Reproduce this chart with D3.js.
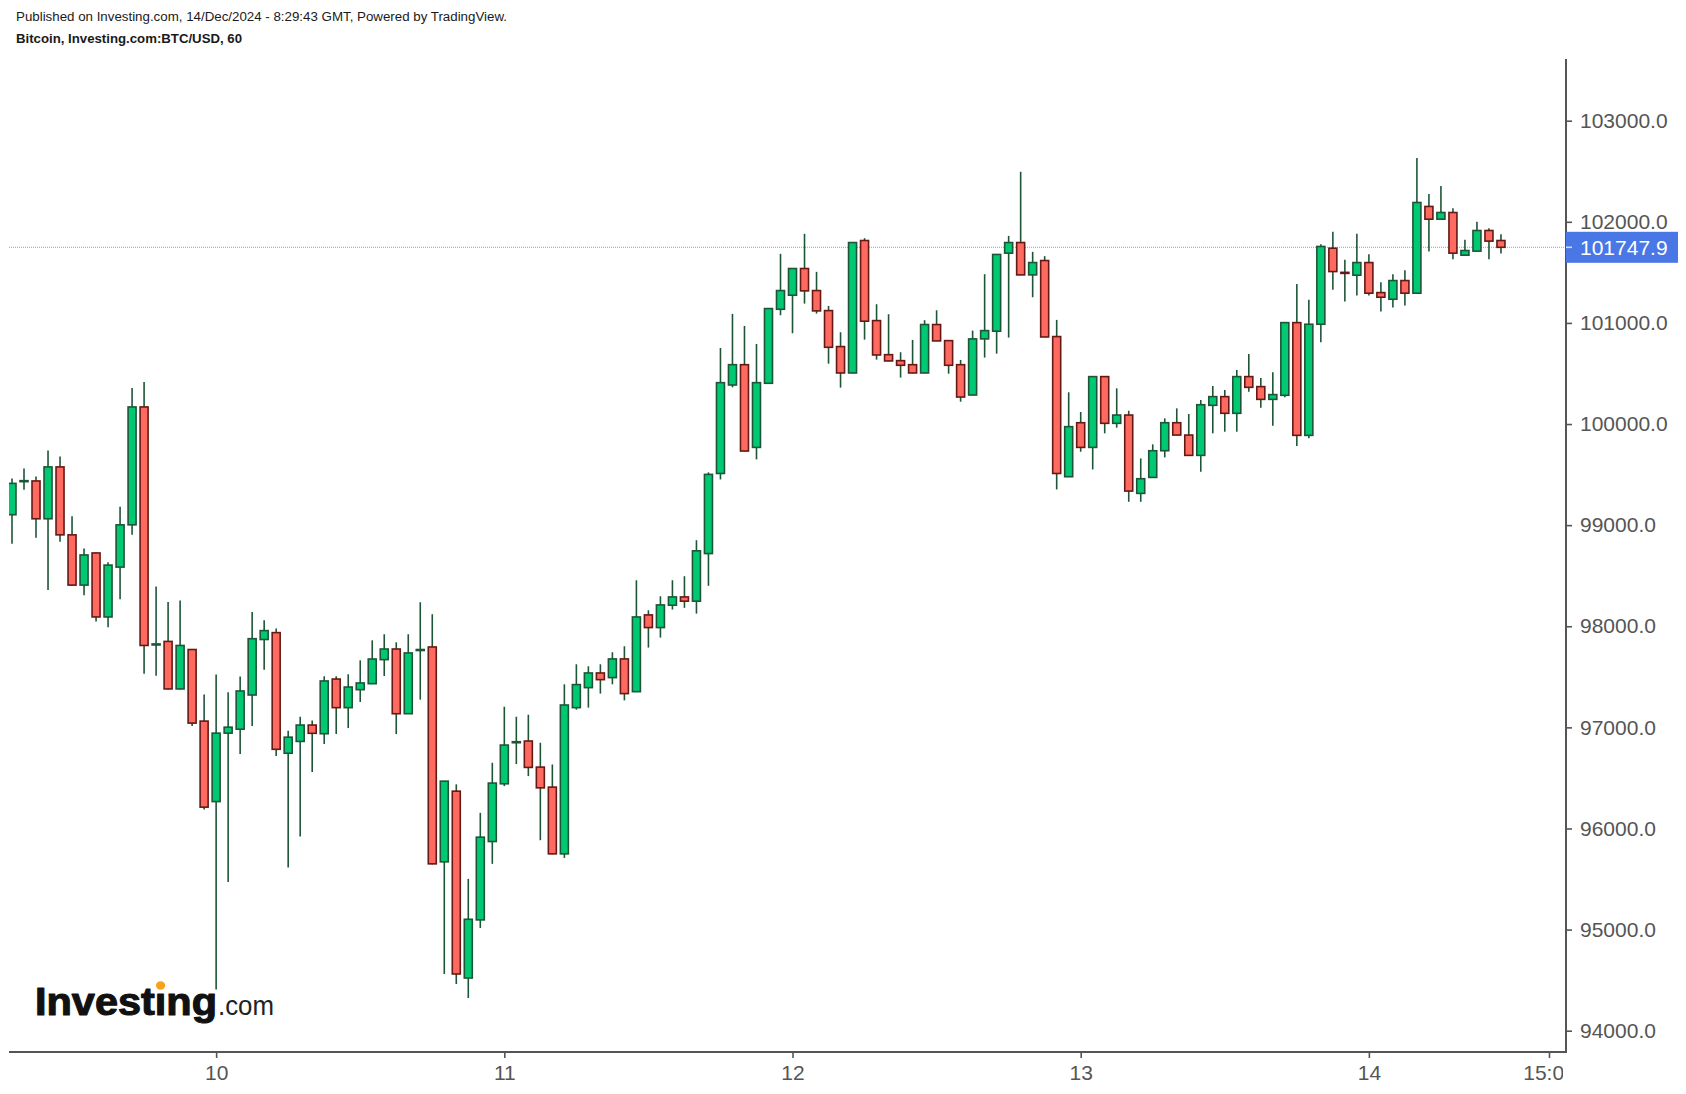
<!DOCTYPE html>
<html><head><meta charset="utf-8">
<script src="https://cdn.jsdelivr.net/npm/d3@7/dist/d3.min.js"></script>
<style>
body{margin:0;background:#fff;}
svg{display:block;font-family:"Liberation Sans",Arial,Helvetica,sans-serif;}
</style>
</head><body>
<svg id="chart" width="1686" height="1094"></svg>
<script>
// ---------- DATA (BTC/USD, 60-minute candles, first candle 9 Dec 07:00) ----------
const firstCandle = Date.UTC(2024, 11, 9, 7);
const opens = [
 99103,99432,99437,99063,99576,98904,98407,98725,98092,98585,99003,100169,97815,97850,97380,97770,97062,
 96266,96943,96982,97320,97869,97937,96744,96861,97023,96937,97478,97195,97373,97432,97670,97775,97135,97762,97795,95670,96369,94521,95096,95871,
 96442,96850,96865,96607,96409,95749,97195,97393,97538,97492,97677,97353,98112,97987,98208,98290,98248,98719,99511,100386,100587,99769,100403,101135,
 101274,101538,101320,101122,100766,100505,101815,101023,100686,100627,100587,100505,100984,100825,100587,100287,100842,100918,101690,101795,101475,101617,100865,99479,
 100013,99769,100469,100007,100089,99314,99472,99736,100013,99891,99690,100185,100271,100106,100469,100370,100244,100284,101003,99888,100987,101739,101500,101472,
 101597,101300,101234,101419,101294,102152,102026,102092,101670,101710,101914,101815
];
const highs = [
 99461,99560,99480,99739,99679,99087,98769,98730,98633,99182,100356,100415,98394,98239,98255,97775,97324,
 97523,97348,97503,98140,98060,97977,96966,97106,97069,97505,97505,97525,97663,97861,97921,97841,97921,98238,98119,96470,96436,95502,96155,96650,
 97204,97105,97125,96848,96633,97426,97624,97604,97624,97743,97802,98455,98158,98297,98455,98495,98851,99522,100752,101089,100970,100792,101145,101683,
 101540,101881,101505,101168,100908,101797,101838,101185,101086,100710,100832,101027,101125,100827,100634,100924,101482,101679,101861,102495,101703,101660,101030,100314,
 100119,100471,100471,100353,100132,99660,99799,100056,100155,100099,100238,100376,100337,100535,100693,100456,100512,101005,101386,101228,101779,101901,101624,101881,
 101680,101403,101482,101521,102630,102274,102353,102135,101822,102000,101937,101878
];
const lows = [
 98816,99349,98876,98359,98836,98400,98307,98048,97989,98267,98904,97531,97511,97375,97375,97014,96187,
 94408,95471,96736,97014,97571,96716,95614,95920,96558,96835,96934,96993,97251,97430,97508,96934,97135,97274,95645,94561,94462,94323,95016,95650,
 96419,96637,96518,95884,95745,95709,97175,97195,97334,97426,97267,97350,97789,97888,98165,98182,98125,98400,99452,100363,99730,99650,100400,101076,
 100898,101191,101092,100597,100360,100503,100835,100637,100622,100459,100503,100503,100820,100498,100221,100285,100657,100696,100855,101473,101254,100859,99353,99477,
 99726,99551,99908,99964,99231,99231,99470,99670,99889,99688,99528,99908,99924,99924,100320,100162,99984,100264,99782,99860,100810,101327,101211,101271,
 101271,101112,101152,101172,101292,101706,102024,101630,101668,101708,101630,101686
];
const closes = [
 99413,99440,99063,99576,98904,98407,98705,98092,98605,99003,100169,97810,97825,97380,97810,97042,96211,
 96943,97002,97360,97877,97957,96783,96903,97023,96941,97459,97195,97399,97439,97676,97775,97135,97736,97770,95650,96468,94561,95102,95914,96449,
 96825,96858,96604,96402,95749,97221,97423,97538,97472,97677,97334,98092,97987,98211,98290,98248,98746,99502,100409,100587,99733,100409,101142,101320,
 101538,101317,101119,100759,100505,101795,101017,100683,100624,100581,100505,100984,100822,100581,100267,100842,100924,101677,101795,101475,101597,100861,99511,99974,
 99769,100469,100007,100089,99337,99459,99736,100013,99891,99690,100191,100271,100106,100469,100363,100244,100291,101003,99888,100987,101756,101508,101493,101597,
 101294,101254,101419,101294,102191,102026,102092,101690,101716,101914,101809,101747.9
];
const lastPrice = 101747.9;
const yTicks = [94000,95000,96000,97000,98000,99000,100000,101000,102000,103000];
const xTickTimes = [Date.UTC(2024,11,10),Date.UTC(2024,11,11),Date.UTC(2024,11,12),Date.UTC(2024,11,13),Date.UTC(2024,11,14),Date.UTC(2024,11,14,15)];
const xTickLabels = ["10","11","12","13","14","15:00"];
const headerLines = ["Published on Investing.com, 14/Dec/2024 - 8:29:43 GMT, Powered by TradingView.","Bitcoin, Investing.com:BTC/USD, 60"];

// ---------- LAYOUT ----------
const W = 1686, H = 1094;
const plotLeft = 9, plotRight = 1566, plotTop = 59, axisY = 1052;
const HOUR = 3600000;
const candles = opens.map((o,i)=>({t:new Date(firstCandle + i*HOUR), o, h:highs[i], l:lows[i], c:closes[i]}));

const svg = d3.select("#chart");
svg.append("rect").attr("width",W).attr("height",H).attr("fill","#fff");

const x = d3.scaleUtc()
  .domain([new Date(firstCandle), new Date(Date.UTC(2024,11,14,15))])
  .range([12.0, 1549.0]);
const y = d3.scaleLinear().domain([94000,103000]).range([1030.7,120.7]);

const GREEN = "#00c873", RED = "#ff6a60", GREEN_EDGE = "#1e5537", RED_EDGE = "#641914";

// clip paths
const defs = svg.append("defs");
defs.append("clipPath").attr("id","plotClip").append("rect")
  .attr("x",plotLeft).attr("y",plotTop).attr("width",plotRight-plotLeft).attr("height",axisY-plotTop);
// x-axis group is translated by axisY, so this clip is in the group's local space
defs.append("clipPath").attr("id","xLabClip").append("rect")
  .attr("x",0).attr("y",0).attr("width",1563).attr("height",H-axisY);

// header
svg.append("text").attr("x",16).attr("y",21).attr("font-size",12).attr("fill","#1a1a1a")
  .attr("textLength",491).attr("lengthAdjust","spacingAndGlyphs").text(headerLines[0]);
svg.append("text").attr("x",16).attr("y",43).attr("font-size",12).attr("font-weight","bold").attr("fill","#1a1a1a")
  .attr("textLength",226).attr("lengthAdjust","spacingAndGlyphs").text(headerLines[1]);

// logo
const logo = svg.append("g");
const inv = logo.append("text").attr("x",35).attr("y",1015).attr("font-size",38).attr("font-weight","bold")
  .attr("fill","#111").attr("stroke","#111").attr("stroke-width",1.1).attr("stroke-linejoin","round")
  .text("Investıng");
const natural = inv.node().getComputedTextLength();
const iStart = inv.node().getSubStringLength(0,6);
const iW = inv.node().getSubStringLength(6,1);
const targetW = 182;
inv.attr("textLength",targetW).attr("lengthAdjust","spacingAndGlyphs");
const sc = targetW/natural;
logo.append("ellipse").attr("cx",35 + (iStart + iW/2)*sc).attr("cy",985.5).attr("rx",4.6).attr("ry",4.2)
  .attr("fill","#f7a21b");
logo.append("text").attr("x",35+targetW+1).attr("y",1015).attr("font-size",27).attr("fill","#222")
  .attr("textLength",56).attr("lengthAdjust","spacingAndGlyphs").text(".com");

// price line
svg.append("line").attr("x1",plotLeft).attr("x2",plotRight).attr("y1",y(lastPrice)).attr("y2",y(lastPrice))
  .attr("stroke","#6f8ff0").attr("stroke-width",1).attr("stroke-dasharray","1,1").attr("opacity",0.85);

// candles
const cg = svg.append("g").attr("clip-path","url(#plotClip)");
const bodyW = 8;
cg.selectAll("line.wick").data(candles).join("line").attr("class","wick")
  .attr("x1",d=>x(d.t)).attr("x2",d=>x(d.t))
  .attr("y1",d=>y(d.h)).attr("y2",d=>y(d.l))
  .attr("stroke",GREEN_EDGE).attr("stroke-width",1.6);
cg.selectAll("rect.body").data(candles).join("rect").attr("class","body")
  .attr("x",d=>x(d.t)-bodyW/2).attr("width",bodyW)
  .attr("y",d=>y(Math.max(d.o,d.c)))
  .attr("height",d=>Math.max(1,Math.abs(y(d.o)-y(d.c))))
  .attr("fill",d=>d.c>=d.o?GREEN:RED)
  .attr("stroke",d=>d.c>=d.o?GREEN_EDGE:RED_EDGE)
  .attr("stroke-width",1.6);

// axes
const AX = "#555";
const xAxis = d3.axisBottom(x).tickValues(xTickTimes.map(t=>new Date(t)))
  .tickFormat((d,i)=>xTickLabels[i]).tickSize(6).tickPadding(7).tickSizeOuter(0);
const gx = svg.append("g").attr("transform",`translate(0,${axisY})`).attr("clip-path","url(#xLabClip)")
  .call(xAxis);
gx.select(".domain").remove();
gx.selectAll(".tick line").attr("stroke",AX).attr("stroke-width",1.6);
gx.selectAll(".tick text").attr("fill","#555").attr("font-size",21)
  .attr("font-family","Liberation Sans, Arial, sans-serif");

const yAxis = d3.axisRight(y).tickValues(yTicks).tickFormat(d3.format(".1f")).tickSize(6).tickPadding(8).tickSizeOuter(0);
const gy = svg.append("g").attr("transform",`translate(${plotRight},0)`).call(yAxis);
gy.select(".domain").remove();
gy.selectAll(".tick line").attr("stroke",AX).attr("stroke-width",1.6);
gy.selectAll(".tick text").attr("fill","#555").attr("font-size",21)
  .attr("font-family","Liberation Sans, Arial, sans-serif");

// axis lines
svg.append("line").attr("x1",plotLeft).attr("x2",plotRight+1).attr("y1",axisY).attr("y2",axisY)
  .attr("stroke",AX).attr("stroke-width",2);
svg.append("line").attr("x1",plotRight).attr("x2",plotRight).attr("y1",plotTop).attr("y2",axisY+1)
  .attr("stroke",AX).attr("stroke-width",2);

// last price label
const py = y(lastPrice);
svg.append("rect").attr("x",plotRight).attr("y",py-15.5).attr("width",112).attr("height",31).attr("fill","#4a77e6");
svg.append("line").attr("x1",plotRight).attr("x2",plotRight+6).attr("y1",py).attr("y2",py)
  .attr("stroke","#cfdcff").attr("stroke-width",1.6);
svg.append("text").attr("x",plotRight+14).attr("y",py).attr("dy","0.35em").attr("font-size",21)
  .attr("fill","#fff").text(d3.format(".1f")(lastPrice));
</script>
</body></html>
